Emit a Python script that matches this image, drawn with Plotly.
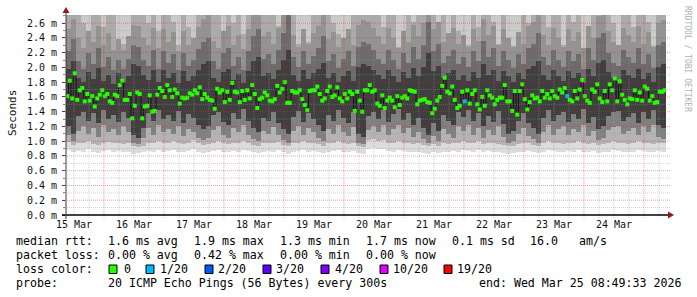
import plotly.graph_objects as go
import pandas as pd
from datetime import datetime, timedelta

# ---------------- data ----------------
START = datetime(2026, 3, 15, 8, 49, 33)
END = datetime(2026, 3, 25, 8, 49, 33)
YMAX = 2.71  # ms, top of the value axis

# hourly median rtt (ms)
median = [
    1.61, 1.82, 1.58, 1.92, 1.56, 1.69, 1.72, 1.54, 1.64, 1.55,
    1.61, 1.47, 1.58, 1.63, 1.69, 1.61, 1.64, 1.54, 1.52, 1.63,
    1.61, 1.76, 1.82, 1.56, 1.56, 1.64, 1.31, 1.48, 1.66, 1.64,
    1.31, 1.47, 1.48, 1.62, 1.40, 1.41, 1.63, 1.72, 1.68, 1.60,
    1.76, 1.69, 1.60, 1.70, 1.65, 1.51, 1.59, 1.58, 1.59, 1.65,
    1.63, 1.69, 1.65, 1.73, 1.57, 1.64, 1.59, 1.56, 1.55, 1.44,
    1.71, 1.66, 1.69, 1.53, 1.67, 1.56, 1.79, 1.67, 1.66, 1.53,
    1.68, 1.56, 1.69, 1.58, 1.76, 1.64, 1.45, 1.57, 1.59, 1.66,
    1.62, 1.55, 1.54, 1.57, 1.75, 1.66, 1.71, 1.80, 1.52, 1.52,
    1.68, 1.66, 1.66, 1.69, 1.57, 1.49, 1.42, 1.68, 1.69, 1.69,
    1.74, 1.64, 1.55, 1.58, 1.68, 1.74, 1.60, 1.62, 1.73, 1.58,
    1.54, 1.64, 1.58, 1.67, 1.64, 1.41, 1.67, 1.55, 1.40, 1.69,
    1.69, 1.76, 1.67, 1.69, 1.51, 1.48, 1.62, 1.45, 1.55, 1.59,
    1.55, 1.46, 1.61, 1.49, 1.59, 1.61, 1.58, 1.69, 1.68, 1.67,
    1.50, 1.55, 1.56, 1.57, 1.53, 1.52, 1.38, 1.44, 1.55, 1.60,
    1.75, 1.86, 1.67, 1.65, 1.74, 1.56, 1.45, 1.48, 1.67, 1.54,
    1.69, 1.51, 1.64, 1.69, 1.50, 1.43, 1.60, 1.48, 1.69, 1.62,
    1.59, 1.50, 1.56, 1.59, 1.59, 1.76, 1.54, 1.54, 1.41, 1.68,
    1.36, 1.68, 1.77, 1.57, 1.43, 1.53, 1.62, 1.58, 1.59, 1.54,
    1.68, 1.59, 1.64, 1.58, 1.68, 1.61, 1.59, 1.70, 1.66, 1.72,
    1.61, 1.56, 1.54, 1.68, 1.58, 1.70, 1.83, 1.61, 1.55, 1.52,
    1.70, 1.67, 1.77, 1.58, 1.53, 1.68, 1.54, 1.77, 1.69, 1.85,
    1.54, 1.81, 1.63, 1.56, 1.50, 1.58, 1.57, 1.69, 1.56, 1.66,
    1.55, 1.74, 1.71, 1.55, 1.61, 1.52, 1.53, 1.67, 1.67, 1.69,
]

# hourly lost pings (of 20)
loss = [
    0, 0, 0, 0, 0, 0, 0, 0, 0, 0, 0, 0, 0, 0, 0, 0, 0, 0, 0, 0,
    0, 0, 0, 0, 0, 0, 0, 0, 0, 0, 0, 0, 0, 0, 0, 0, 0, 0, 0, 0,
    0, 0, 0, 0, 0, 0, 0, 0, 0, 0, 0, 0, 0, 0, 0, 0, 0, 0, 0, 0,
    0, 0, 0, 0, 0, 0, 0, 0, 0, 0, 0, 0, 0, 0, 0, 0, 0, 0, 0, 0,
    0, 0, 0, 0, 0, 0, 0, 0, 0, 0, 0, 0, 0, 0, 0, 0, 0, 0, 0, 0,
    0, 0, 0, 0, 0, 0, 0, 0, 0, 0, 0, 0, 0, 0, 0, 0, 0, 0, 0, 0,
    0, 0, 0, 0, 0, 0, 0, 0, 0, 0, 0, 0, 0, 0, 0, 0, 0, 0, 0, 0,
    0, 0, 0, 0, 0, 0, 0, 0, 0, 0, 0, 0, 0, 0, 0, 0, 0, 0, 0, 1,
    0, 0, 0, 0, 0, 0, 0, 0, 0, 0, 0, 0, 0, 0, 0, 0, 0, 0, 0, 0,
    0, 0, 0, 0, 0, 0, 0, 0, 0, 0, 0, 0, 0, 0, 0, 0, 0, 0, 0, 0,
    1, 0, 0, 0, 0, 0, 0, 0, 0, 0, 0, 0, 0, 0, 0, 0, 0, 0, 0, 0,
    0, 0, 0, 0, 0, 0, 0, 0, 0, 0, 0, 0, 0, 0, 0, 0, 0, 0, 0, 0,
]

# smoke (2-hour columns): ping-distribution boundaries in ms
lo1 = [0.88, 0.85, 0.87, 0.86, 0.89, 0.86, 0.84, 0.87, 0.88, 0.86,
       0.87, 0.85, 0.86, 0.83, 0.84, 0.85, 0.87, 0.86, 0.88, 0.86,
       0.87, 0.88, 0.86, 0.85, 0.87, 0.89, 0.86, 0.84, 0.86, 0.87,
       0.88, 0.86, 0.85, 0.87, 0.86, 0.88, 0.87, 0.85, 0.84, 0.86,
       0.87, 0.86, 0.88, 0.85, 0.83, 0.86, 0.87, 0.88, 0.86, 0.87,
       0.85, 0.84, 0.86, 0.87, 0.88, 0.86, 0.85, 0.87, 0.84, 0.83,
       0.90, 0.91, 0.89, 0.90, 0.87, 0.86, 0.88, 0.87, 0.86, 0.85,
       0.86, 0.84, 0.83, 0.85, 0.84, 0.86, 0.85, 0.87, 0.86, 0.88,
       0.87, 0.86, 0.88, 0.85, 0.87, 0.86, 0.85, 0.84, 0.83, 0.84,
       0.85, 0.86, 0.87, 0.85, 0.84, 0.86, 0.88, 0.87, 0.86, 0.85,
       0.87, 0.86, 0.88, 0.86, 0.85, 0.87, 0.84, 0.85, 0.86, 0.88,
       0.87, 0.86, 0.85, 0.86, 0.88, 0.87, 0.86, 0.85, 0.87, 0.86]
lo2 = [0.99, 0.95, 0.97, 0.98, 1.00, 0.96, 0.95, 0.98, 0.99, 0.97,
       0.98, 0.96, 0.97, 0.93, 0.92, 0.94, 0.97, 0.98, 1.00, 0.97,
       0.98, 1.00, 0.97, 0.96, 0.98, 1.01, 0.97, 0.95, 0.96, 0.98,
       1.00, 0.97, 0.96, 0.98, 0.97, 1.00, 0.98, 0.95, 0.94, 0.97,
       0.98, 0.97, 0.99, 0.95, 0.93, 0.97, 0.98, 1.00, 0.97, 0.98,
       0.96, 0.94, 0.97, 0.98, 1.00, 0.97, 0.96, 0.98, 0.93, 0.92,
       1.02, 1.03, 1.00, 1.01, 0.98, 0.97, 1.00, 0.98, 0.97, 0.96,
       0.97, 0.95, 0.93, 0.96, 0.94, 0.97, 0.96, 0.98, 0.97, 1.00,
       0.98, 0.97, 1.00, 0.96, 0.98, 0.97, 0.96, 0.95, 0.93, 0.94,
       0.96, 0.97, 0.98, 0.95, 0.94, 0.97, 1.00, 0.98, 0.97, 0.96,
       0.98, 0.97, 1.00, 0.97, 0.96, 0.98, 0.95, 0.96, 0.97, 1.00,
       0.98, 0.97, 0.96, 0.97, 1.00, 0.98, 0.97, 0.96, 0.98, 0.97]
lo3 = [1.08, 1.00, 1.14, 1.20, 1.10, 1.18, 1.06, 1.22, 1.12, 1.16,
       1.08, 1.20, 1.12, 0.98, 0.96, 1.04, 1.18, 1.09, 1.22, 1.12,
       1.16, 1.10, 1.21, 1.07, 1.17, 1.12, 1.05, 1.02, 1.04, 1.15,
       1.20, 1.08, 1.05, 1.18, 1.12, 1.22, 1.09, 1.03, 1.00, 1.14,
       1.10, 1.19, 1.08, 1.02, 0.98, 1.14, 1.21, 1.08, 1.18, 1.12,
       1.05, 1.00, 1.16, 1.10, 1.22, 1.13, 1.07, 1.19, 0.98, 0.96,
       1.15, 1.20, 1.12, 1.22, 1.09, 1.17, 1.22, 1.11, 1.18, 1.06,
       1.13, 1.03, 0.97, 1.07, 1.00, 1.16, 1.10, 1.05, 1.20, 1.14,
       1.22, 1.09, 1.18, 1.04, 1.15, 1.08, 1.21, 1.06, 0.98, 1.00,
       1.10, 1.18, 1.07, 1.03, 0.98, 1.13, 1.22, 1.09, 1.16, 1.20,
       1.08, 1.17, 1.12, 1.22, 1.07, 1.14, 1.02, 1.04, 1.15, 1.19,
       1.21, 1.10, 1.14, 1.18, 1.08, 1.20, 1.12, 1.22, 1.06, 1.03]
lo4 = [1.20, 1.10, 1.34, 1.40, 1.28, 1.38, 1.24, 1.42, 1.30, 1.36,
       1.26, 1.40, 1.32, 1.08, 1.05, 1.18, 1.38, 1.27, 1.42, 1.30,
       1.36, 1.28, 1.41, 1.25, 1.37, 1.31, 1.22, 1.16, 1.20, 1.35,
       1.40, 1.26, 1.22, 1.38, 1.30, 1.43, 1.27, 1.18, 1.12, 1.32,
       1.28, 1.39, 1.25, 1.16, 1.10, 1.33, 1.41, 1.26, 1.38, 1.30,
       1.22, 1.14, 1.36, 1.28, 1.42, 1.32, 1.24, 1.39, 1.10, 1.06,
       1.34, 1.40, 1.30, 1.42, 1.26, 1.37, 1.43, 1.29, 1.38, 1.22,
       1.32, 1.18, 1.08, 1.24, 1.14, 1.35, 1.28, 1.22, 1.40, 1.33,
       1.42, 1.27, 1.38, 1.20, 1.34, 1.26, 1.41, 1.23, 1.10, 1.14,
       1.28, 1.38, 1.24, 1.18, 1.10, 1.32, 1.42, 1.27, 1.35, 1.40,
       1.26, 1.37, 1.30, 1.43, 1.24, 1.33, 1.16, 1.20, 1.34, 1.39,
       1.41, 1.28, 1.33, 1.38, 1.25, 1.40, 1.30, 1.42, 1.22, 1.18]
hi4 = [1.98, 2.08, 1.86, 1.80, 1.94, 1.84, 1.99, 1.82, 1.90, 1.78,
       1.92, 1.80, 1.88, 2.04, 2.02, 1.90, 1.83, 1.96, 1.80, 1.97,
       1.85, 1.92, 1.79, 1.95, 1.82, 1.88, 1.97, 2.04, 2.08, 1.86,
       1.80, 1.94, 1.98, 1.83, 1.91, 1.79, 1.95, 2.08, 2.14, 1.88,
       1.93, 1.84, 1.97, 2.10, 2.24, 1.90, 1.81, 1.96, 1.84, 1.92,
       1.98, 2.06, 1.86, 1.92, 1.80, 1.89, 1.95, 1.82, 2.00, 2.04,
       2.02, 1.96, 1.90, 1.84, 1.97, 1.88, 1.80, 1.94, 1.86, 1.99,
       1.88, 2.00, 2.20, 1.95, 2.02, 1.85, 1.92, 1.97, 1.83, 1.90,
       1.81, 1.94, 1.86, 2.04, 1.90, 1.97, 1.82, 1.95, 1.88, 1.80,
       1.93, 1.84, 1.98, 2.02, 2.08, 1.90, 1.83, 1.96, 1.88, 1.81,
       1.95, 1.86, 1.92, 1.79, 1.98, 1.88, 2.06, 2.10, 1.94, 1.85,
       1.82, 1.96, 1.90, 1.86, 1.98, 1.84, 1.93, 1.80, 2.00, 2.04]
hi3 = [2.22, 2.38, 2.08, 1.98, 2.20, 2.04, 2.26, 2.00, 2.14, 1.96,
       2.10, 1.98, 2.12, 2.30, 2.28, 2.10, 2.02, 2.24, 1.98, 2.22,
       2.06, 2.18, 1.96, 2.20, 2.02, 2.10, 2.25, 2.34, 2.40, 2.08,
       1.98, 2.20, 2.26, 2.02, 2.14, 1.97, 2.22, 2.42, 2.52, 2.12,
       2.18, 2.04, 2.24, 2.46, 2.71, 2.14, 2.00, 2.22, 2.04, 2.16,
       2.26, 2.42, 2.08, 2.18, 1.99, 2.12, 2.22, 2.02, 2.28, 2.34,
       2.32, 2.24, 2.12, 2.04, 2.24, 2.10, 1.98, 2.20, 2.06, 2.28,
       2.12, 2.30, 2.62, 2.22, 2.32, 2.06, 2.16, 2.24, 2.04, 2.14,
       2.00, 2.22, 2.08, 2.36, 2.14, 2.26, 2.02, 2.22, 2.10, 1.99,
       2.18, 2.04, 2.26, 2.32, 2.46, 2.14, 2.03, 2.24, 2.10, 2.00,
       2.22, 2.08, 2.18, 1.98, 2.26, 2.10, 2.40, 2.46, 2.20, 2.06,
       2.02, 2.24, 2.14, 2.06, 2.26, 2.04, 2.18, 1.99, 2.30, 2.34]
hi2 = [2.52, 2.65, 2.40, 2.26, 2.50, 2.34, 2.56, 2.30, 2.46, 2.24,
       2.38, 2.24, 2.42, 2.58, 2.56, 2.40, 2.30, 2.54, 2.26, 2.52,
       2.34, 2.48, 2.22, 2.50, 2.30, 2.40, 2.55, 2.66, 2.71, 2.36,
       2.26, 2.50, 2.56, 2.30, 2.44, 2.25, 2.52, 2.71, 2.71, 2.42,
       2.48, 2.32, 2.54, 2.71, 2.71, 2.44, 2.28, 2.52, 2.32, 2.46,
       2.56, 2.71, 2.38, 2.48, 2.27, 2.40, 2.52, 2.30, 2.58, 2.64,
       2.62, 2.54, 2.42, 2.32, 2.54, 2.40, 2.26, 2.50, 2.34, 2.58,
       2.42, 2.60, 2.71, 2.52, 2.62, 2.34, 2.46, 2.54, 2.32, 2.44,
       2.28, 2.52, 2.36, 2.66, 2.44, 2.56, 2.30, 2.52, 2.40, 2.27,
       2.48, 2.32, 2.56, 2.62, 2.71, 2.44, 2.31, 2.54, 2.40, 2.28,
       2.52, 2.36, 2.48, 2.26, 2.56, 2.40, 2.70, 2.71, 2.50, 2.34,
       2.30, 2.54, 2.44, 2.34, 2.56, 2.32, 2.48, 2.27, 2.60, 2.64]
hi1 = [2.71, 2.71, 2.71, 2.60, 2.30, 2.71, 2.71, 2.55, 2.71, 2.71,
       2.30, 2.32, 2.25, 2.71, 2.71, 2.71, 2.60, 2.71, 2.50, 2.71,
       2.71, 2.62, 2.30, 2.71, 2.55, 2.25, 2.71, 2.71, 2.71, 2.71,
       2.71, 2.36, 2.71, 2.60, 2.71, 2.45, 2.71, 2.71, 2.71, 2.71,
       2.71, 2.71, 2.55, 2.71, 2.71, 2.71, 2.32, 2.25, 2.35, 2.71,
       2.71, 2.71, 2.71, 2.60, 2.45, 2.28, 2.38, 2.71, 2.71, 2.71,
       2.71, 2.71, 2.71, 2.55, 2.71, 2.71, 2.28, 2.24, 2.71, 2.62,
       2.71, 2.71, 2.71, 2.71, 2.60, 2.71, 2.32, 2.71, 2.50, 2.28,
       2.30, 2.71, 2.55, 2.71, 2.71, 2.62, 2.32, 2.71, 2.32, 2.28,
       2.36, 2.71, 2.60, 2.71, 2.71, 2.71, 2.55, 2.71, 2.71, 2.30,
       2.71, 2.62, 2.71, 2.24, 2.36, 2.71, 2.71, 2.71, 2.71, 2.60,
       2.28, 2.71, 2.71, 2.55, 2.71, 2.71, 2.62, 2.28, 2.71, 2.71]

day_labels = ["15 Mar", "16 Mar", "17 Mar", "18 Mar", "19 Mar",
              "20 Mar", "21 Mar", "22 Mar", "23 Mar", "24 Mar"]
y_ticks = [0.0, 0.2, 0.4, 0.6, 0.8, 1.0, 1.2, 1.4, 1.6, 1.8, 2.0, 2.2, 2.4, 2.6]
y_ticktext = ["0.0 m", "0.2 m", "0.4 m", "0.6 m", "0.8 m", "1.0 m", "1.2 m",
              "1.4 m", "1.6 m", "1.8 m", "2.0 m", "2.2 m", "2.4 m", "2.6 m"]
y_minor = [0.1, 0.3, 0.5, 0.7, 0.9, 1.1, 1.3, 1.5, 1.7, 1.9, 2.1, 2.3, 2.5, 2.7]

loss_levels = ["0", "1/20", "2/20", "3/20", "4/20", "10/20", "19/20"]
loss_colors = ["#26ff00", "#00b8ff", "#0059ff", "#5e00ff", "#7e00ff", "#dd00ff", "#ff0000"]
loss_thresholds = [0, 1, 2, 3, 4, 10, 19]

row1 = ["median rtt:", "1.6 ms avg", "1.9 ms max", "1.3 ms min", "1.7 ms now", "0.1 ms sd", "16.0", "am/s"]
row2 = ["packet loss:", "0.00 % avg", "0.42 % max", "0.00 % min", "0.00 % now"]
probe_text = "20 ICMP Echo Pings (56 Bytes) every 300s"
end_text = "end: Wed Mar 25 08:49:33 2026"

# ---------------- geometry helpers (pixels -> paper) ----------------
W, H = 697, 297
L, R, T, B = 66, 31, 15, 82
PW, PH = W - L - R, H - T - B


def px(x):
    return (x - L) / PW


def py(y):
    return (T + PH - y) / PH


def loss_color(n):
    c = loss_colors[0]
    for th, col in zip(loss_thresholds, loss_colors):
        if n >= th:
            c = col
    return c


fig = go.Figure()

# ---------------- smoke ----------------
ncol = len(lo1)
col_x = [START + timedelta(hours=2 * i + 1) for i in range(ncol)]
col_w = 2 * 3600 * 1000
top = [YMAX] * ncol

segments = [  # (lower, upper, colour) drawn outer first
    (hi1, top, "#cbcbcb"),
    (lo1, lo2, "#dcdcdc"),
    (hi2, hi1, "#ababab"),
    (lo2, lo3, "#b4b4b4"),
    (hi3, hi2, "#939393"),
    (lo3, lo4, "#808080"),
    (hi4, hi3, "#6c6c6c"),
    (lo4, hi4, "#3f3f3f"),
]
for lower, upper, colr in segments:
    fig.add_trace(go.Bar(
        x=col_x, base=lower,
        y=[max(u - l, 0) for l, u in zip(lower, upper)],
        width=col_w, marker=dict(color=colr, line=dict(width=0)),
        hoverinfo="skip",
    ))

# ---------------- median ----------------
hour_x = [START + timedelta(hours=i + 0.5) for i in range(len(median))]
fig.add_trace(go.Scatter(
    x=hour_x, y=median, mode="lines", line=dict(color="#151515", width=1, shape="hvh"),
    hoverinfo="skip"))
fig.add_trace(go.Scatter(
    x=hour_x, y=median, mode="markers",
    marker=dict(symbol="square", size=4, color=[loss_color(n) for n in loss], line=dict(width=0)),
    hoverinfo="skip"))

# ---------------- grid (drawn over the smoke, like rrdtool) ----------------
shapes = []
minor_col = "rgba(150,150,150,0.45)"
major_col = "rgba(215,40,40,0.42)"
for t in pd.date_range("2026-03-15 12:00", END, freq="6h"):
    if t.hour == 0:
        continue
    shapes.append(dict(type="line", xref="x", yref="paper", x0=t, x1=t, y0=py(218), y1=1,
                       line=dict(color=minor_col, width=1, dash="1px,1px"), layer="above"))
for t in pd.date_range("2026-03-16", END, freq="D"):
    shapes.append(dict(type="line", xref="x", yref="paper", x0=t, x1=t, y0=py(218), y1=1,
                       line=dict(color=major_col, width=1, dash="1px,1px"), layer="above"))
for v in y_minor:
    shapes.append(dict(type="line", xref="paper", yref="y", x0=px(63), x1=px(670), y0=v, y1=v,
                       line=dict(color=minor_col, width=1, dash="1px,1px"), layer="above"))
for v in y_ticks[1:]:
    shapes.append(dict(type="line", xref="paper", yref="y", x0=px(63), x1=px(670), y0=v, y1=v,
                       line=dict(color=major_col, width=1, dash="1px,1px"), layer="above"))

# axis lines and arrows
shapes.append(dict(type="line", xref="paper", yref="paper", x0=px(62), x1=px(670), y0=0, y1=0,
                   line=dict(color="#000000", width=1.3), layer="above"))
shapes.append(dict(type="line", xref="paper", yref="paper", x0=0, x1=0, y0=py(219), y1=py(12),
                   line=dict(color="#3a3a3a", width=1), layer="above"))
arrow_col = "#8a1c1c"
shapes.append(dict(type="path", xref="paper", yref="paper",
                   path=f"M {px(668)} {py(211.5)} L {px(674)} {py(215)} L {px(668)} {py(218.5)} Z",
                   fillcolor=arrow_col, line=dict(width=0), layer="above"))
shapes.append(dict(type="path", xref="paper", yref="paper",
                   path=f"M {px(62.5)} {py(13)} L {px(66)} {py(7)} L {px(69.5)} {py(13)} Z",
                   fillcolor=arrow_col, line=dict(width=0), layer="above"))

# legend colour boxes
box_left = [109, 146, 205, 263, 321, 380, 444]
label_left = [124, 160, 218, 276, 335, 393, 457]
for bx, colr in zip(box_left, loss_colors):
    shapes.append(dict(type="rect", xref="paper", yref="paper",
                       x0=px(bx), x1=px(bx + 8), y0=py(273.5), y1=py(265),
                       fillcolor=colr, line=dict(color="#000000", width=1)))

# ---------------- text ----------------
MONO = "DejaVu Sans Mono"
ann = []
for i, lab in enumerate(day_labels):
    ann.append(dict(x=datetime(2026, 3, 15 + i, 12, 0), y=py(224.5), xref="x", yref="paper",
                    text=lab, showarrow=False, xanchor="center", yanchor="middle",
                    font=dict(family=MONO, size=10, color="#111")))
ann.append(dict(x=px(12), y=py(113), xref="paper", yref="paper", text="Seconds", textangle=-90,
                showarrow=False, xanchor="center", yanchor="middle",
                font=dict(family=MONO, size=11, color="#111")))
ann.append(dict(x=px(687), y=py(59), xref="paper", yref="paper", text="RRDTOOL / TOBI OETIKER",
                textangle=90, showarrow=False, xanchor="center", yanchor="middle",
                font=dict(family=MONO, size=8, color="#b0b0b0")))

LF = dict(family=MONO, size=11.6, color="#000")


def put(text, x, y, anchor="left"):
    ann.append(dict(x=px(x), y=py(y), xref="paper", yref="paper", text=text, showarrow=False,
                    xanchor=anchor, yanchor="middle", font=LF, borderpad=0))


for t, x in zip(row1, [15, 107, 193, 279, 365, 451, 529, 578]):
    put(t, x, 241)
for t, x in zip(row2, [15, 107, 193, 279, 365]):
    put(t, x, 255)
put("loss color:", 15, 269)
for t, x in zip(loss_levels, label_left):
    put(t, x - 1, 269)
put("probe:", 15, 283)
put(probe_text, 107, 283)
put(end_text, 682, 283, anchor="right")

fig.update_layout(
    width=W, height=H,
    margin=dict(l=L, r=R, t=T, b=B, pad=0),
    paper_bgcolor="white", plot_bgcolor="white",
    showlegend=False, barmode="overlay", bargap=0,
    font=dict(family=MONO, size=10, color="#111"),
    shapes=shapes, annotations=ann,
    xaxis=dict(type="date", range=[START, END], showgrid=False, zeroline=False,
               showticklabels=False, ticks="", showline=False, fixedrange=True),
    yaxis=dict(range=[0, YMAX], tickvals=y_ticks, ticktext=y_ticktext, ticks="outside",
               ticklen=3, tickcolor="#404040", tickwidth=1, showgrid=False, zeroline=False,
               showline=False, ticklabelstandoff=3, fixedrange=True,
               tickfont=dict(family=MONO, size=10, color="#111"),
               minor=dict(tickvals=y_minor, ticks="outside", ticklen=2, tickcolor="#808080")),
)

fig.write_html("out.html")
